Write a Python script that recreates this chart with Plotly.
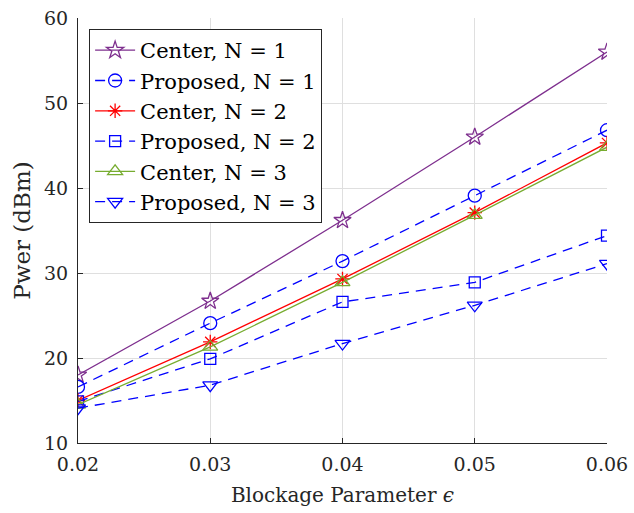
import plotly.graph_objects as go

x = [0.02, 0.03, 0.04, 0.05, 0.06]
center_n1 = [18.0, 26.7, 36.2, 46.0, 56.0]
proposed_n1 = [16.6, 24.1, 31.4, 39.1, 46.8]
center_n2 = [15.0, 21.9, 29.3, 37.1, 45.3]
proposed_n2 = [14.9, 19.9, 26.6, 28.9, 34.4]
center_n3 = [14.5, 21.3, 28.9, 36.8, 44.8]
proposed_n3 = [14.1, 16.8, 21.7, 26.2, 31.1]

x_ticks = [0.02, 0.03, 0.04, 0.05, 0.06]
x_tick_labels = ["0.02", "0.03", "0.04", "0.05", "0.06"]
y_ticks = [10, 20, 30, 40, 50, 60]

purple = "#7E2F8E"
blue = "#0000FF"
red = "#FF0000"
green = "#77AC30"

series = [
    ("Center, N = 1", center_n1, purple, "solid", "star-open", 13),
    ("Proposed, N = 1", proposed_n1, blue, "10px,7px", "circle-open", 13),
    ("Center, N = 2", center_n2, red, "solid", "asterisk-open", 12),
    ("Proposed, N = 2", proposed_n2, blue, "10px,7px", "square-open", 11),
    ("Center, N = 3", center_n3, green, "solid", "triangle-up-open", 13),
    ("Proposed, N = 3", proposed_n3, blue, "10px,7px", "triangle-down-open", 13),
]

fig = go.Figure()
for name, ys, color, dash, sym, size in series:
    fig.add_trace(go.Scatter(
        x=x, y=ys, name=name, mode="lines+markers",
        line=dict(color=color, width=1.3, dash=dash),
        marker=dict(symbol=sym, size=size, color=color, line=dict(color=color, width=1.3)),
    ))

font_family = "DejaVu Serif, Liberation Serif, serif"
fig.update_layout(
    width=634, height=513,
    margin=dict(l=78, r=27, t=18, b=70),
    paper_bgcolor="white", plot_bgcolor="white",
    font=dict(family=font_family, size=19, color="#262626"),
    showlegend=True,
    legend=dict(
        x=0.021, y=0.974, xanchor="left", yanchor="top",
        bgcolor="white", bordercolor="#262626", borderwidth=1,
        font=dict(family=font_family, size=21, color="#000000"),
        tracegroupgap=0, itemwidth=40,
    ),
    xaxis=dict(
        range=[0.02, 0.06], tickvals=x_ticks, ticktext=x_tick_labels,
        showgrid=True, gridcolor="#dfdfdf", gridwidth=1,
        showline=True, linecolor="#262626", linewidth=1.2,
        ticks="inside", ticklen=5, tickcolor="#262626",
        zeroline=False, automargin=False, ticklabelstandoff=4,
        title=dict(text="Blockage Parameter <i>ϵ</i>", font=dict(size=20), standoff=14),
        tickfont=dict(size=19),
    ),
    yaxis=dict(
        range=[10, 60], tickvals=y_ticks,
        showgrid=True, gridcolor="#dfdfdf", gridwidth=1,
        showline=True, linecolor="#262626", linewidth=1.2,
        ticks="inside", ticklen=5, tickcolor="#262626",
        zeroline=False, automargin=False, ticklabelstandoff=5,
        title=dict(text="Pwer (dBm)", font=dict(size=23), standoff=6),
        tickfont=dict(size=19),
    ),
)

fig.write_html(
    "out.html",
    config={"displayModeBar": False},
    post_script="document.body.style.margin='0';document.documentElement.style.overflow='hidden';",
)
